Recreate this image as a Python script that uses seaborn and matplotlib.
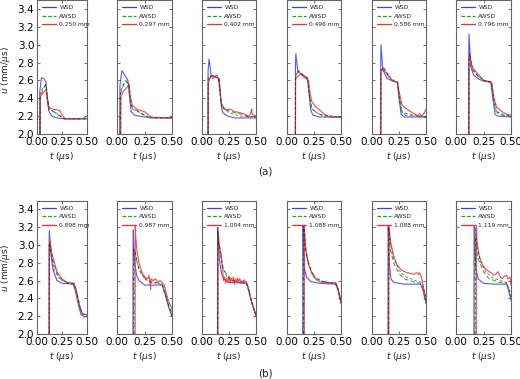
import numpy as np
import pandas as pd
import seaborn as sns
import matplotlib
matplotlib.use('Agg')
import matplotlib.pyplot as plt
from matplotlib.lines import Line2D

# thickness labels, row (a) then row (b)
THICK = ['0.250 mm', '0.297 mm', '0.402 mm', '0.496 mm', '0.586 mm', '0.796 mm',
         '0.898 mm', '0.987 mm', '1.004 mm', '1.088 mm', '1.088 mm', '1.119 mm']

# (t [us], u [mm/us]) points, one list per panel
WSD = [
    [(0.027, 2.0), (0.028, 2.48), (0.045, 2.63), (0.07, 2.62), (0.09, 2.58), (0.105, 2.35), (0.12, 2.25),
     (0.15, 2.2), (0.2, 2.18), (0.28, 2.17), (0.5, 2.17)],
    [(0.025, 2.0), (0.027, 2.55), (0.045, 2.71), (0.07, 2.66), (0.1, 2.6), (0.115, 2.4), (0.13, 2.25),
     (0.16, 2.21), (0.25, 2.19), (0.5, 2.18)],
    [(0.055, 2.0), (0.056, 2.7), (0.065, 2.84), (0.085, 2.66), (0.12, 2.64), (0.16, 2.62), (0.175, 2.35),
     (0.19, 2.24), (0.24, 2.2), (0.3, 2.18), (0.5, 2.18)],
    [(0.077, 2.0), (0.078, 2.75), (0.082, 2.9), (0.1, 2.7), (0.14, 2.66), (0.19, 2.63), (0.205, 2.45),
     (0.22, 2.27), (0.24, 2.21), (0.3, 2.19), (0.5, 2.19)],
    [(0.08, 2.0), (0.081, 2.8), (0.083, 3.0), (0.1, 2.72), (0.14, 2.62), (0.2, 2.59), (0.235, 2.58),
     (0.25, 2.4), (0.27, 2.22), (0.3, 2.19), (0.5, 2.19)],
    [(0.115, 2.0), (0.116, 2.9), (0.118, 3.12), (0.135, 2.75), (0.16, 2.66), (0.2, 2.62), (0.25, 2.59),
     (0.315, 2.58), (0.335, 2.4), (0.355, 2.22), (0.38, 2.2), (0.5, 2.19)],
    [(0.12, 2.0), (0.121, 3.0), (0.123, 3.16), (0.14, 2.9), (0.16, 2.72), (0.2, 2.6), (0.25, 2.57),
     (0.36, 2.56), (0.38, 2.5), (0.42, 2.3), (0.44, 2.22), (0.47, 2.19), (0.5, 2.2)],
    [(0.145, 2.0), (0.146, 3.0), (0.148, 3.17), (0.16, 2.8), (0.18, 2.65), (0.2, 2.6), (0.25, 2.55),
     (0.41, 2.55), (0.43, 2.48), (0.47, 2.3), (0.5, 2.2)],
    [(0.143, 2.0), (0.144, 3.0), (0.146, 3.2), (0.16, 2.85), (0.18, 2.68), (0.2, 2.62), (0.25, 2.58),
     (0.41, 2.57), (0.43, 2.5), (0.47, 2.32), (0.5, 2.2)],
    [(0.145, 2.0), (0.146, 3.1), (0.148, 3.22), (0.16, 2.75), (0.18, 2.64), (0.22, 2.59), (0.3, 2.57),
     (0.45, 2.56), (0.47, 2.5), (0.5, 2.34)],
    [(0.148, 2.0), (0.149, 3.1), (0.15, 3.22), (0.16, 2.8), (0.175, 2.62), (0.2, 2.58), (0.3, 2.56),
     (0.45, 2.56), (0.47, 2.5), (0.5, 2.34)],
    [(0.163, 2.0), (0.164, 3.1), (0.166, 3.22), (0.18, 2.75), (0.2, 2.62), (0.25, 2.57), (0.35, 2.56),
     (0.46, 2.56), (0.48, 2.48), (0.5, 2.38)],
]

AWSD = [
    [(0.03, 2.0), (0.032, 2.4), (0.06, 2.5), (0.09, 2.56), (0.105, 2.4), (0.12, 2.28), (0.18, 2.24),
     (0.23, 2.2), (0.28, 2.17), (0.5, 2.17)],
    [(0.03, 2.0), (0.032, 2.45), (0.06, 2.55), (0.08, 2.6), (0.1, 2.57), (0.12, 2.38), (0.14, 2.29),
     (0.2, 2.25), (0.26, 2.2), (0.3, 2.18), (0.5, 2.18)],
    [(0.057, 2.0), (0.058, 2.6), (0.08, 2.64), (0.1, 2.65), (0.15, 2.63), (0.165, 2.5), (0.18, 2.32),
     (0.2, 2.28), (0.3, 2.24), (0.4, 2.21), (0.5, 2.19)],
    [(0.078, 2.0), (0.079, 2.63), (0.1, 2.7), (0.14, 2.67), (0.19, 2.62), (0.21, 2.42), (0.225, 2.3),
     (0.26, 2.25), (0.32, 2.21), (0.4, 2.19), (0.5, 2.19)],
    [(0.081, 2.0), (0.082, 2.7), (0.1, 2.74), (0.13, 2.7), (0.17, 2.62), (0.2, 2.59), (0.235, 2.58),
     (0.255, 2.4), (0.275, 2.26), (0.31, 2.21), (0.5, 2.19)],
    [(0.117, 2.0), (0.118, 2.85), (0.13, 2.8), (0.15, 2.72), (0.2, 2.65), (0.25, 2.6), (0.32, 2.58),
     (0.34, 2.4), (0.36, 2.26), (0.42, 2.21), (0.5, 2.2)],
    [(0.123, 2.0), (0.124, 3.0), (0.13, 3.02), (0.15, 2.85), (0.2, 2.68), (0.25, 2.6), (0.3, 2.58),
     (0.37, 2.57), (0.39, 2.5), (0.42, 2.35), (0.45, 2.22), (0.5, 2.21)],
    [(0.155, 2.0), (0.156, 2.9), (0.16, 2.95), (0.18, 2.82), (0.2, 2.74), (0.25, 2.63), (0.3, 2.59),
     (0.4, 2.57), (0.43, 2.52), (0.47, 2.32), (0.5, 2.24)],
    [(0.146, 2.0), (0.147, 3.1), (0.16, 3.0), (0.18, 2.84), (0.2, 2.72), (0.25, 2.64), (0.3, 2.6),
     (0.4, 2.58), (0.42, 2.55), (0.46, 2.35), (0.5, 2.22)],
    [(0.152, 2.0), (0.153, 3.2), (0.16, 3.1), (0.18, 2.9), (0.22, 2.72), (0.27, 2.62), (0.35, 2.58),
     (0.45, 2.57), (0.47, 2.52), (0.5, 2.36)],
    [(0.152, 2.0), (0.153, 3.15), (0.17, 2.95), (0.2, 2.8), (0.25, 2.68), (0.3, 2.62), (0.4, 2.58),
     (0.45, 2.57), (0.47, 2.52), (0.5, 2.36)],
    [(0.17, 2.0), (0.171, 3.1), (0.18, 3.0), (0.2, 2.85), (0.25, 2.7), (0.3, 2.62), (0.4, 2.58),
     (0.46, 2.57), (0.48, 2.5), (0.5, 2.4)],
]

EXPT = [
    [(0.033, 2.0), (0.034, 2.42), (0.05, 2.45), (0.07, 2.47), (0.09, 2.5), (0.1, 2.42), (0.12, 2.3),
     (0.15, 2.28), (0.2, 2.27), (0.23, 2.26), (0.245, 2.22), (0.26, 2.2), (0.28, 2.17), (0.46, 2.17),
     (0.48, 2.19), (0.5, 2.2)],
    [(0.035, 2.0), (0.036, 2.42), (0.06, 2.48), (0.09, 2.52), (0.11, 2.56), (0.12, 2.42), (0.14, 2.32),
     (0.19, 2.27), (0.25, 2.25), (0.3, 2.2), (0.33, 2.18), (0.48, 2.18), (0.5, 2.19)],
    [(0.058, 2.0), (0.059, 2.58), (0.075, 2.62), (0.085, 2.66), (0.1, 2.62), (0.12, 2.65), (0.14, 2.66),
     (0.155, 2.6), (0.17, 2.45), (0.18, 2.34), (0.2, 2.3), (0.22, 2.27), (0.26, 2.28), (0.3, 2.25),
     (0.35, 2.24), (0.4, 2.22), (0.43, 2.19), (0.44, 2.2), (0.455, 2.25), (0.46, 2.28), (0.465, 2.22),
     (0.5, 2.2)],
    [(0.079, 2.0), (0.08, 2.62), (0.1, 2.65), (0.13, 2.67), (0.16, 2.63), (0.2, 2.6), (0.215, 2.45),
     (0.23, 2.36), (0.27, 2.3), (0.32, 2.25), (0.36, 2.21), (0.4, 2.19), (0.5, 2.19)],
    [(0.082, 2.0), (0.083, 2.7), (0.095, 2.72), (0.1, 2.75), (0.11, 2.7), (0.13, 2.69), (0.16, 2.63),
     (0.2, 2.59), (0.235, 2.58), (0.26, 2.42), (0.28, 2.32), (0.32, 2.28), (0.36, 2.25), (0.4, 2.22),
     (0.42, 2.2), (0.44, 2.23), (0.46, 2.2), (0.48, 2.23), (0.5, 2.28)],
    [(0.118, 2.0), (0.119, 2.85), (0.125, 2.9), (0.14, 2.78), (0.16, 2.73), (0.2, 2.67), (0.25, 2.6),
     (0.3, 2.59), (0.325, 2.58), (0.345, 2.4), (0.37, 2.3), (0.42, 2.25), (0.46, 2.22), (0.5, 2.21)],
    [(0.124, 2.0), (0.125, 3.0), (0.13, 3.04), (0.15, 2.9), (0.2, 2.7), (0.25, 2.62), (0.3, 2.58),
     (0.37, 2.57), (0.39, 2.5), (0.43, 2.3), (0.46, 2.22), (0.5, 2.22)],
    [(0.165, 2.0), (0.166, 3.22), (0.17, 3.1), (0.18, 2.95), (0.2, 2.8), (0.23, 2.68), (0.26, 2.63),
     (0.28, 2.62), (0.29, 2.66), (0.3, 2.6), (0.305, 2.5), (0.31, 2.62), (0.33, 2.6), (0.35, 2.62),
     (0.37, 2.58), (0.39, 2.6), (0.41, 2.58), (0.43, 2.55), (0.46, 2.4), (0.5, 2.28)],
    [(0.148, 2.0), (0.149, 3.15), (0.16, 3.0), (0.18, 2.88), (0.19, 2.72), (0.2, 2.6), (0.21, 2.64),
     (0.22, 2.57), (0.23, 2.63), (0.24, 2.58), (0.25, 2.65), (0.26, 2.57), (0.27, 2.62), (0.28, 2.59),
     (0.29, 2.64), (0.3, 2.56), (0.31, 2.62), (0.32, 2.58), (0.33, 2.63), (0.34, 2.59), (0.35, 2.62),
     (0.36, 2.57), (0.37, 2.6), (0.38, 2.58), (0.39, 2.61), (0.4, 2.58), (0.41, 2.59), (0.43, 2.52),
     (0.46, 2.35), (0.5, 2.21)],
    [(0.16, 2.0), (0.161, 3.22), (0.17, 3.0), (0.19, 2.82), (0.23, 2.68), (0.27, 2.61), (0.32, 2.58),
     (0.36, 2.59), (0.4, 2.57), (0.45, 2.58), (0.47, 2.52), (0.5, 2.38)],
    [(0.156, 2.0), (0.157, 3.22), (0.17, 3.05), (0.2, 2.88), (0.23, 2.78), (0.27, 2.72), (0.32, 2.69),
     (0.36, 2.68), (0.39, 2.67), (0.41, 2.69), (0.43, 2.67), (0.44, 2.69), (0.46, 2.63), (0.48, 2.5),
     (0.5, 2.4)],
    [(0.185, 2.0), (0.186, 3.22), (0.19, 3.05), (0.21, 2.88), (0.24, 2.78), (0.27, 2.73), (0.3, 2.7),
     (0.32, 2.69), (0.34, 2.66), (0.36, 2.67), (0.38, 2.7), (0.4, 2.65), (0.42, 2.62), (0.44, 2.65),
     (0.46, 2.66), (0.47, 2.62), (0.49, 2.64), (0.5, 2.55)],
]

# unlabelled black dashed curve
BLK = [
    [(0.03, 2.0), (0.031, 2.45), (0.06, 2.52), (0.09, 2.55), (0.105, 2.4), (0.12, 2.28), (0.2, 2.23),
     (0.27, 2.17), (0.5, 2.17)],
    [(0.03, 2.0), (0.031, 2.48), (0.06, 2.56), (0.09, 2.58), (0.11, 2.55), (0.125, 2.36), (0.14, 2.28),
     (0.22, 2.23), (0.3, 2.18), (0.5, 2.18)],
    [(0.056, 2.0), (0.057, 2.62), (0.08, 2.65), (0.12, 2.64), (0.155, 2.62), (0.17, 2.45), (0.185, 2.3),
     (0.25, 2.24), (0.35, 2.2), (0.5, 2.19)],
    [(0.078, 2.0), (0.079, 2.65), (0.11, 2.71), (0.15, 2.66), (0.19, 2.62), (0.21, 2.4), (0.23, 2.28),
     (0.3, 2.22), (0.5, 2.19)],
    [(0.081, 2.0), (0.082, 2.72), (0.11, 2.74), (0.15, 2.66), (0.2, 2.6), (0.235, 2.58), (0.255, 2.38),
     (0.28, 2.24), (0.5, 2.19)],
    [(0.116, 2.0), (0.117, 2.82), (0.125, 2.9), (0.15, 2.72), (0.2, 2.65), (0.26, 2.6), (0.32, 2.58),
     (0.345, 2.38), (0.37, 2.24), (0.5, 2.2)],
    [(0.122, 2.0), (0.123, 3.02), (0.14, 2.92), (0.17, 2.72), (0.22, 2.63), (0.3, 2.57), (0.37, 2.56),
     (0.4, 2.45), (0.44, 2.25), (0.5, 2.2)],
    [(0.15, 2.0), (0.151, 2.95), (0.17, 2.9), (0.2, 2.72), (0.25, 2.62), (0.3, 2.58), (0.41, 2.56),
     (0.45, 2.4), (0.5, 2.2)],
    [(0.145, 2.0), (0.146, 3.15), (0.16, 2.95), (0.19, 2.75), (0.23, 2.64), (0.3, 2.59), (0.41, 2.57),
     (0.44, 2.45), (0.5, 2.2)],
    [(0.155, 2.0), (0.156, 3.22), (0.17, 2.95), (0.2, 2.78), (0.25, 2.64), (0.35, 2.58), (0.45, 2.57),
     (0.48, 2.48), (0.5, 2.35)],
    [(0.154, 2.0), (0.155, 3.2), (0.17, 3.0), (0.2, 2.85), (0.25, 2.72), (0.3, 2.65), (0.4, 2.6),
     (0.46, 2.58), (0.48, 2.5), (0.5, 2.38)],
    [(0.175, 2.0), (0.176, 3.2), (0.19, 3.0), (0.22, 2.82), (0.27, 2.7), (0.32, 2.64), (0.4, 2.6),
     (0.46, 2.58), (0.49, 2.48), (0.5, 2.42)],
]

X_TICKS = [0.0, 0.25, 0.5]
Y_TICKS = [2.0, 2.2, 2.4, 2.6, 2.8, 3.0, 3.2, 3.4]

C_WSD, C_AWSD, C_EXP = '#3a3aff', '#22a022', '#ff2a2a'


def to_df(pts):
    return pd.DataFrame(pts, columns=['t', 'u'])


sns.set_style('ticks')
plt.rcParams['font.family'] = ['DejaVu Sans']
plt.rcParams['mathtext.fontset'] = 'dejavusans'

W, H = 520, 379
fig = plt.figure(figsize=(W / 100, H / 100), dpi=100)

lefts = [37, 117, 202, 287, 372, 456]
rights = [87, 172, 256, 341, 426, 511]
rows = [(0, 134), (200.5, 334)]  # top px, bottom px

for i in range(12):
    r, c = divmod(i, 6)
    top, bot = rows[r]
    ax = fig.add_axes([lefts[c] / W, 1 - bot / H, (rights[c] - lefts[c]) / W, (bot - top) / H])

    sns.lineplot(data=to_df(WSD[i]), x='t', y='u', ax=ax, sort=False, estimator=None,
                 color=C_WSD, lw=0.8, alpha=0.85)
    sns.lineplot(data=to_df(AWSD[i]), x='t', y='u', ax=ax, sort=False, estimator=None,
                 color=C_AWSD, lw=0.8, alpha=0.85, dashes=(4, 2))
    sns.lineplot(data=to_df(EXPT[i]), x='t', y='u', ax=ax, sort=False, estimator=None,
                 color=C_EXP, lw=0.8, alpha=0.85)
    sns.lineplot(data=to_df(BLK[i]), x='t', y='u', ax=ax, sort=False, estimator=None,
                 color='black', lw=0.7, alpha=0.5, dashes=(3, 2))

    ax.set_xlim(0, 0.5)
    ax.set_ylim(2.0, 3.5)
    ax.set_xticks(X_TICKS)
    ax.set_xticklabels(['0.00', '0.25', '0.50'])
    ax.set_yticks(Y_TICKS)
    ax.tick_params(direction='in', top=True, right=True, length=2.5, width=0.6,
                   labelsize=7.5, pad=2, colors='0.35', labelcolor='black')
    if c != 0:
        ax.set_yticklabels([])
    for sp in ax.spines.values():
        sp.set_color('0.4')
        sp.set_linewidth(0.8)
    ax.set_xlabel(r'$t$ ($\mu$s)', fontsize=6.5, labelpad=2)
    ax.set_ylabel('')
    handles = [Line2D([], [], color=C_WSD, lw=0.9),
               Line2D([], [], color=C_AWSD, lw=0.9, dashes=(3, 1.5)),
               Line2D([], [], color=C_EXP, lw=0.9)]
    ax.legend(handles, ['WSD', 'AWSD', THICK[i]], loc='upper left', frameon=False, fontsize=4.3,
              handlelength=2.4, handletextpad=0.5, labelspacing=0.55, borderaxespad=0.55, borderpad=0.3)

fig.text(6 / W, 1 - 70 / H, r'$u$ (mm/$\mu$s)', rotation=90, ha='center', va='center', fontsize=6.5)
fig.text(6 / W, 1 - 268 / H, r'$u$ (mm/$\mu$s)', rotation=90, ha='center', va='center', fontsize=6.5)
fig.text(265 / W, 1 - 171 / H, '(a)', ha='center', va='center', fontsize=7.5)
fig.text(265 / W, 1 - 373 / H, '(b)', ha='center', va='center', fontsize=7.5)

fig.savefig('out.png', dpi=100)
